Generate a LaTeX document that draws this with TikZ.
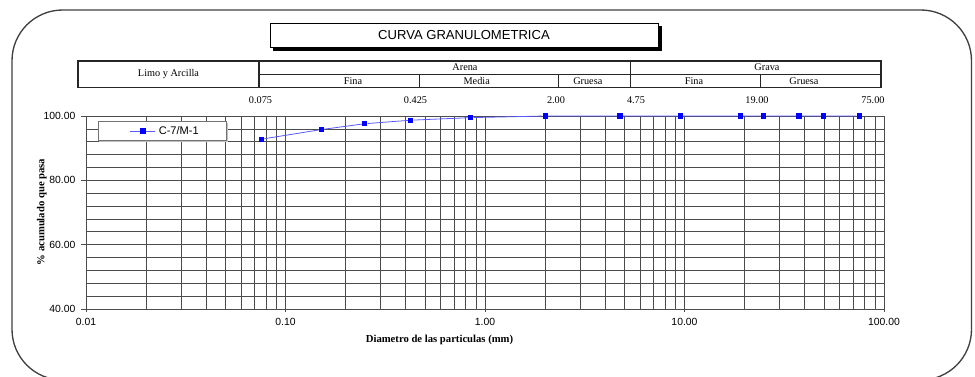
\documentclass[tikz,border=0pt]{standalone}
\usepackage{fontspec}
\setmainfont{Liberation Serif}
\setsansfont{Liberation Sans}
\pgfdeclarelayer{bg}
\pgfsetlayers{bg,main}
\tikzset{
    gridline/.style={draw=black!70, line width=0.5pt},
    tbl/.style={draw=black!85, line width=0.9pt},
    dot/.style={rectangle, fill=blue, draw=none, inner sep=0mm, minimum size=3.8pt},
    curve/.style={draw=blue!65, line width=0.6pt},
    hdr/.style={font=\fontsize{7.7}{9}\selectfont, inner sep=0pt, anchor=base},
    ticklbl/.style={font=\sffamily\fontsize{7.8}{9}\selectfont, inner sep=0pt},
    axlbl/.style={font=\bfseries\fontsize{8}{9}\selectfont, inner sep=0pt}
}

\begin{document}
\begin{tikzpicture}[x=0.75pt, y=0.75pt]
    \useasboundingbox (0,0) rectangle (975,376);
    \draw[black!75, line width=1pt, rounded corners=38pt] (12,-4) rectangle (971.5,366);

    % title
    \node (title) at (464,340.5) [draw, line width=0.7pt, fill=white, minimum width=291pt, minimum height=18.3pt,
        font=\sffamily\fontsize{9.8}{11}\selectfont] {CURVA GRANULOMETRICA};
    \begin{pgfonlayer}{bg}
        \fill ([shift={(2.4pt,-2.4pt)}]title.south west) rectangle ([shift={(2.4pt,-2.4pt)}]title.north east);
    \end{pgfonlayer}

    % header table
    \draw[tbl] (78,288.3) rectangle (881,315);
    \draw[tbl] (259,288.3) -- (259,315);
    \draw[tbl] (630.7,288.3) -- (630.7,315);
    \draw[tbl] (259,301.7) -- (881,301.7);
    \draw[tbl] (419.7,288.3) -- (419.7,301.7);
    \draw[tbl] (558.3,288.3) -- (558.3,301.7);
    \draw[tbl] (760.3,288.3) -- (760.3,301.7);

    \node (limo) at (168.5,299.8) [hdr] {Limo y Arcilla};
    \node (arena) at (465,305.4) [hdr] {Arena};
    \node (grava) at (767,305.4) [hdr] {Grava};
    \node (afina) at (353,291.8) [hdr] {Fina};
    \node (amedia) at (476.7,291.8) [hdr] {Media};
    \node (agruesa) at (587.8,291.8) [hdr] {Gruesa};
    \node (gfina) at (694,291.8) [hdr] {Fina};
    \node (ggruesa) at (804,291.8) [hdr] {Gruesa};

    \node (s1) at (260.5,272.7) [hdr] {0.075};
    \node (s2) at (415.5,272.7) [hdr] {0.425};
    \node (s3) at (556,272.7) [hdr] {2.00};
    \node (s4) at (636,272.7) [hdr] {4.75};
    \node (s5) at (757,272.7) [hdr] {19.00};
    \node (s6) at (873,272.7) [hdr] {75.00};

    % axis titles
    \node (xtitle) at (439.5,34) [axlbl, anchor=base] {Diametro de las particulas (mm)};
    \node (ytitle) at (41.7,164) [axlbl, rotate=90] {\% acumulado que pasa};

    % plot: x = log10(d), y = % passing
    \begin{scope}[shift={(485,-61.67)}, x=149.625pt, y=2.4125pt]
        \begin{pgfonlayer}{bg}
            \foreach \e in {-2,-1,0,1}
                \foreach \k in {1,...,9}
                    \draw[gridline] ({\e+log10(\k)},40) -- ({\e+log10(\k)},100);
            \draw[gridline] (2,40) -- (2,100);
            \foreach \p in {40,44,...,100}
                \draw[gridline] (-2,\p) -- (2,\p);
            \foreach \p in {40,60,80,100}
                \draw[gridline] (-2,\p) -- ++(-4pt,0);
            \foreach \e in {-2,...,2}
                \draw[gridline] (\e,40) -- ++(0,-2.4pt);
        \end{pgfonlayer}

        \node (y40) at (-2,40) [ticklbl, anchor=base east, xshift=-7.8pt, yshift=-2.5pt] {40.00};
        \node (y60) at (-2,60) [ticklbl, anchor=base east, xshift=-7.8pt, yshift=-2.5pt] {60.00};
        \node (y80) at (-2,80) [ticklbl, anchor=base east, xshift=-7.8pt, yshift=-2.5pt] {80.00};
        \node (y100) at (-2,100) [ticklbl, anchor=base east, xshift=-7.8pt, yshift=-2.5pt] {100.00};

        \node (x001) at (-2,40) [ticklbl, anchor=base, yshift=-12.4pt] {0.01};
        \node (x01) at (-1,40) [ticklbl, anchor=base, yshift=-12.4pt] {0.10};
        \node (x1) at (0,40) [ticklbl, anchor=base, yshift=-12.4pt] {1.00};
        \node (x10) at (1,40) [ticklbl, anchor=base, yshift=-12.4pt] {10.00};
        \node (x100) at (2,40) [ticklbl, anchor=base, yshift=-12.4pt] {100.00};

        \node (p1) at ({log10(0.075)},92.8) [dot] {};
        \node (p2) at ({log10(0.15)},95.8) [dot] {};
        \node (p3) at ({log10(0.25)},97.6) [dot] {};
        \node (p4) at ({log10(0.425)},98.7) [dot] {};
        \node (p5) at ({log10(0.85)},99.5) [dot] {};
        \node (p6) at ({log10(2.0)},100) [dot] {};
        \node (p7) at ({log10(4.75)},100) [dot] {};
        \node (p8) at ({log10(9.5)},100) [dot] {};
        \node (p9) at ({log10(19)},100) [dot] {};
        \node (p10) at ({log10(25)},100) [dot] {};
        \node (p11) at ({log10(37.5)},100) [dot] {};
        \node (p12) at ({log10(50)},100) [dot] {};
        \node (p13) at ({log10(75)},100) [dot] {};

        \begin{pgfonlayer}{bg}
            \draw[curve] (p1) -- (p2) -- (p3) -- (p4) -- (p5) -- (p6) -- (p7)
                -- (p8) -- (p9) -- (p10) -- (p11) -- (p12) -- (p13);
        \end{pgfonlayer}
    \end{scope}

    % legend
    \fill[black!25] (99.3,234.3) rectangle (227.7,253.3);
    \node (leg) at (162.5,244.8) [draw=black!55, line width=0.6pt, fill=white, minimum width=96.3pt, minimum height=14.25pt] {};
    \coordinate (legA) at (130,245);
    \coordinate (legB) at (155,245);
    \draw[curve] (legA) -- (legB);
    \node (legdot) at (143,245) [dot] {};
    \node (legtxt) at (158.5,245) [anchor=west, inner sep=0pt, font=\sffamily\fontsize{8.3}{10}\selectfont] {C-7/M-1};
\end{tikzpicture}
\end{document}
